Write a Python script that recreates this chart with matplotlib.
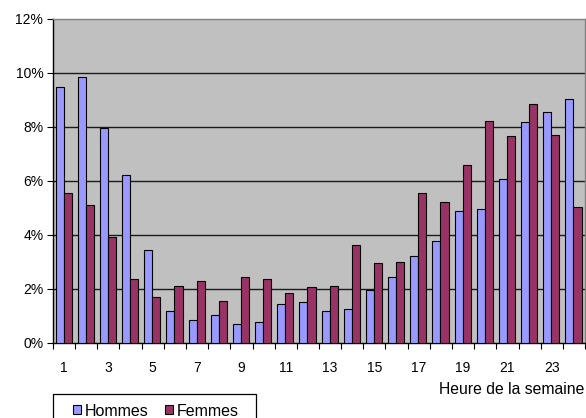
import matplotlib
matplotlib.use("Agg")
import matplotlib.pyplot as plt
import numpy as np
from matplotlib.patches import Rectangle
from matplotlib.ticker import FixedLocator, PercentFormatter

plt.rcParams['font.family'] = ['Liberation Sans', 'DejaVu Sans']

heures = list(range(1, 25))
hommes = [9.47, 9.84, 7.95, 6.21, 3.43, 1.19, 0.86, 1.04, 0.70, 0.78, 1.44, 1.52,
          1.19, 1.27, 1.98, 2.43, 3.22, 3.77, 4.88, 4.96, 6.07, 8.17, 8.54, 9.02]
femmes = [5.54, 5.12, 3.91, 2.36, 1.69, 2.11, 2.31, 1.57, 2.43, 2.36, 1.85, 2.06,
          2.10, 3.63, 2.96, 3.01, 5.54, 5.21, 6.58, 8.22, 7.65, 8.84, 7.69, 5.04]
yticks = [0, 2, 4, 6, 8, 10, 12]

W, H = 586, 418
fig = plt.figure(figsize=(W / 100, H / 100), dpi=100)
ax = fig.add_axes([53 / W, 75 / H, 532 / W, 324 / H])
ax.set_facecolor('#C0C0C0')

x = np.arange(len(heures))
w = 0.365
ax.bar(x - w / 2 - 0.02, hommes, width=w, color='#9999FF', edgecolor='black',
       linewidth=0.8, label='Hommes', zorder=3)
ax.bar(x + w / 2 - 0.02, femmes, width=w, color='#993366', edgecolor='black',
       linewidth=0.8, label='Femmes', zorder=3)

ax.set_xlim(-0.5, len(heures) - 0.5)
ax.set_ylim(0, 12)

# horizontal gridlines
for v in yticks[1:-1]:
    ax.axhline(v, color='#1a1a1a', linewidth=1.0, zorder=1)

ax.set_yticks(yticks)
ax.yaxis.set_major_formatter(PercentFormatter(decimals=0))
ax.tick_params(axis='y', direction='out', length=4, width=0.8, labelsize=10, pad=3)

# category boundary ticks, labels at odd categories
ax.xaxis.set_major_locator(FixedLocator(np.arange(-0.5, len(heures), 1.0)))
ax.set_xticklabels([])
ax.xaxis.set_minor_locator(FixedLocator(x[::2]))
ax.set_xticklabels([str(h) for h in heures[::2]], minor=True)
ax.tick_params(axis='x', which='major', direction='out', length=4, width=0.8)
ax.tick_params(axis='x', which='minor', length=0, labelsize=10, pad=13)

for side in ['left', 'bottom']:
    ax.spines[side].set_color('black')
    ax.spines[side].set_linewidth(1.0)
for side in ['top', 'right']:
    ax.spines[side].set_color('#808080')
    ax.spines[side].set_linewidth(1.0)

fig.text(584 / W, 1 - 390 / H, 'Heure de la semaine', ha='right', va='center',
         fontsize=11.3)

# legend box, running off the bottom edge
fig.patches.append(Rectangle((53 / W, -0.05), (256 - 53) / W, (H - 394) / H + 0.05,
                             transform=fig.transFigure, facecolor='white',
                             edgecolor='black', linewidth=0.9, zorder=1))
fig.legend(loc='center left', bbox_to_anchor=(73 / W, 1 - 411 / H),
           ncol=2, fontsize=11.5, frameon=False,
           handlelength=0.5, handleheight=0.5, handletextpad=0.25,
           columnspacing=1.0, borderpad=0, borderaxespad=0)

fig.savefig('out.png', dpi=100)
